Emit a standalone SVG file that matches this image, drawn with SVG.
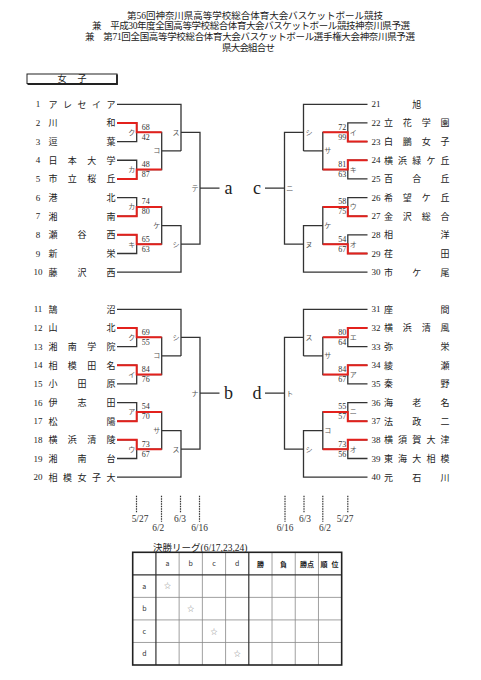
<svg xmlns="http://www.w3.org/2000/svg" xmlns:xlink="http://www.w3.org/1999/xlink" width="481" height="680" viewBox="0 0 481 680">
<style>
.hd{font-family:"Liberation Serif","Noto Sans CJK JP",serif;font-size:9.5px;fill:#222}
.nm{font-family:"Noto Sans CJK JP",sans-serif;font-size:9px;fill:#222;text-anchor:middle}
.no{font-family:"Liberation Serif",serif;font-size:9px;fill:#222;text-anchor:middle}
.sc{font-family:"Liberation Serif",serif;font-size:8px;fill:#333}
.scr{font-family:"Liberation Serif",serif;font-size:8px;fill:#333;text-anchor:end}
.lb{font-family:"Noto Sans CJK JP",sans-serif;font-size:7px;fill:#555;text-anchor:middle}
.fn{font-family:"Liberation Serif",serif;font-size:18px;fill:#222;text-anchor:middle}
.ln{fill:none;stroke:#333;stroke-width:1.3}
.rd{fill:none;stroke:#e3211c;stroke-width:2}
.dt{stroke:#333;stroke-width:1.2;stroke-dasharray:1.5 1}
.dl{font-family:"Liberation Serif",serif;font-size:9.4px;fill:#333;text-anchor:middle}
.tt{font-family:"Liberation Serif","Noto Sans CJK JP",serif;font-size:9.5px;fill:#222}
.tc{font-family:"Noto Sans CJK JP",sans-serif;font-size:7px;fill:#333;text-anchor:middle}
.tb{font-family:"Noto Sans CJK JP",sans-serif;font-size:7px;fill:#222;text-anchor:middle;font-weight:bold}
.st{font-family:"Noto Sans CJK JP",sans-serif;font-size:7px;fill:#888;text-anchor:middle}
.gi{stroke:#888;stroke-width:0.8;fill:none}
.gm{stroke:#333;stroke-width:1.2;fill:none}
.go{stroke:#222;stroke-width:1.6;fill:none}
</style>
<defs>
<path id="br" class="ln" d="M117,104.3H181V150.93M117,122.95H136.7V141.6H117M136.7,132.28H161.7V169.58H136.7M117,160.25H136.7V178.9H117M161.7,150.93H181M181,132.28H200V244.18H181M200,188.2H219.5M117,197.55H136.7V216.2H117M136.7,206.88H161.7V244.18H136.7M117,234.85H136.7V253.5H117M161.7,225.53H181V272.15H117"/>
</defs>
<rect x="0" y="0" width="481" height="680" fill="#fff"/>

<g id="title">
<text class="hd" x="127" y="19" textLength="256">第56回神奈川県高等学校総合体育大会バスケットボール競技</text>
<text class="hd" x="92" y="29.3" textLength="318">兼　平成30年度全国高等学校総合体育大会バスケットボール競技神奈川県予選</text>
<text class="hd" x="85" y="39.5" textLength="330">兼　第71回全国高等学校総合体育大会バスケットボール選手権大会神奈川県予選</text>
<text class="hd" x="222" y="50.5" textLength="53">県大会組合せ</text>
</g>

<g id="category">
<rect x="27" y="74" width="90" height="9.5" fill="none" stroke="#222" stroke-width="1"/>
<path d="M117,74.5V84H27.5" fill="none" stroke="#222" stroke-width="1.8"/>
<text class="nm" x="62 82" y="82.2">女子</text>
</g>

<g id="connectors">
<use xlink:href="#br"/>
<use xlink:href="#br" transform="translate(0,205)"/>
<use xlink:href="#br" transform="translate(484.5,0) scale(-1,1)"/>
<use xlink:href="#br" transform="translate(484.5,205) scale(-1,1)"/>
<path class="rd" d="M117,122.95H136.7V132.28H161.7M117,178.9H136.7V169.58H161.7M117,216.2H136.7V206.88H161.7M117,234.85H136.7V244.18H161.7"/>
<path class="rd" d="M117,327.95H136.7V337.28H161.7M117,365.25H136.7V374.58H161.7M117,421.2H136.7V411.88H161.7M117,439.85H136.7V449.18H161.7"/>
<path class="rd" d="M367.5,141.6H347.8V132.28H322.8M367.5,160.25H347.8V169.58H322.8M367.5,216.2H347.8V206.88H322.8M367.5,253.5H347.8V244.18H322.8"/>
<path class="rd" d="M367.5,327.95H347.8V337.28H322.8M367.5,365.25H347.8V374.58H322.8M367.5,421.2H347.8V411.88H322.8M367.5,439.85H347.8V449.18H322.8"/>
</g>

<g id="teams-left">
<g id="t1"><text class="no" x="38" y="107.3">1</text><text class="nm" x="53 67.5 82 96.5 111" y="107.7">アレセイア</text></g>
<g id="t2"><text class="no" x="38" y="125.95">2</text><text class="nm" x="53 111" y="126.35">川和</text></g>
<g id="t3"><text class="no" x="38" y="144.6">3</text><text class="nm" x="53 111" y="145">逗葉</text></g>
<g id="t4"><text class="no" x="38" y="163.25">4</text><text class="nm" x="53 72.3 91.7 111" y="163.65">日本大学</text></g>
<g id="t5"><text class="no" x="38" y="181.9">5</text><text class="nm" x="53 72.3 91.7 111" y="182.3">市立桜丘</text></g>
<g id="t6"><text class="no" x="38" y="200.55">6</text><text class="nm" x="53 111" y="200.95">港北</text></g>
<g id="t7"><text class="no" x="38" y="219.2">7</text><text class="nm" x="53 111" y="219.6">湘南</text></g>
<g id="t8"><text class="no" x="38" y="237.85">8</text><text class="nm" x="53 82 111" y="238.25">瀬谷西</text></g>
<g id="t9"><text class="no" x="38" y="256.5">9</text><text class="nm" x="53 111" y="256.9">新栄</text></g>
<g id="t10"><text class="no" x="38" y="275.15">10</text><text class="nm" x="53 82 111" y="275.55">藤沢西</text></g>
<g id="t11"><text class="no" x="38" y="312.3">11</text><text class="nm" x="53 111" y="312.7">鵠沼</text></g>
<g id="t12"><text class="no" x="38" y="330.95">12</text><text class="nm" x="53 111" y="331.35">山北</text></g>
<g id="t13"><text class="no" x="38" y="349.6">13</text><text class="nm" x="53 72.3 91.7 111" y="350">湘南学院</text></g>
<g id="t14"><text class="no" x="38" y="368.25">14</text><text class="nm" x="53 72.3 91.7 111" y="368.65">相模田名</text></g>
<g id="t15"><text class="no" x="38" y="386.9">15</text><text class="nm" x="53 82 111" y="387.3">小田原</text></g>
<g id="t16"><text class="no" x="38" y="405.55">16</text><text class="nm" x="53 82 111" y="405.95">伊志田</text></g>
<g id="t17"><text class="no" x="38" y="424.2">17</text><text class="nm" x="53 111" y="424.6">松陽</text></g>
<g id="t18"><text class="no" x="38" y="442.85">18</text><text class="nm" x="53 72.3 91.7 111" y="443.25">横浜清陵</text></g>
<g id="t19"><text class="no" x="38" y="461.5">19</text><text class="nm" x="53 82 111" y="461.9">湘南台</text></g>
<g id="t20"><text class="no" x="38" y="480.15">20</text><text class="nm" x="53 67.5 82 96.5 111" y="480.55">相模女子大</text></g>
</g>

<g id="teams-right">
<g id="t21"><text class="no" x="376" y="107.3">21</text><text class="nm" x="416.8" y="107.7">旭</text></g>
<g id="t22"><text class="no" x="376" y="125.95">22</text><text class="nm" x="388.5 407.3 426.2 445" y="126.35">立花学園</text></g>
<g id="t23"><text class="no" x="376" y="144.6">23</text><text class="nm" x="388.5 407.3 426.2 445" y="145">白鵬女子</text></g>
<g id="t24"><text class="no" x="376" y="163.25">24</text><text class="nm" x="388.5 402.6 416.8 430.9 445" y="163.65">横浜緑ケ丘</text></g>
<g id="t25"><text class="no" x="376" y="181.9">25</text><text class="nm" x="388.5 416.8 445" y="182.3">百合丘</text></g>
<g id="t26"><text class="no" x="376" y="200.55">26</text><text class="nm" x="388.5 407.3 426.2 445" y="200.95">希望ケ丘</text></g>
<g id="t27"><text class="no" x="376" y="219.2">27</text><text class="nm" x="388.5 407.3 426.2 445" y="219.6">金沢総合</text></g>
<g id="t28"><text class="no" x="376" y="237.85">28</text><text class="nm" x="388.5 445" y="238.25">相洋</text></g>
<g id="t29"><text class="no" x="376" y="256.5">29</text><text class="nm" x="388.5 445" y="256.9">荏田</text></g>
<g id="t30"><text class="no" x="376" y="275.15">30</text><text class="nm" x="388.5 416.8 445" y="275.55">市ケ尾</text></g>
<g id="t31"><text class="no" x="376" y="312.3">31</text><text class="nm" x="388.5 445" y="312.7">座間</text></g>
<g id="t32"><text class="no" x="376" y="330.95">32</text><text class="nm" x="388.5 407.3 426.2 445" y="331.35">横浜清風</text></g>
<g id="t33"><text class="no" x="376" y="349.6">33</text><text class="nm" x="388.5 445" y="350">弥栄</text></g>
<g id="t34"><text class="no" x="376" y="368.25">34</text><text class="nm" x="388.5 445" y="368.65">綾瀬</text></g>
<g id="t35"><text class="no" x="376" y="386.9">35</text><text class="nm" x="388.5 445" y="387.3">秦野</text></g>
<g id="t36"><text class="no" x="376" y="405.55">36</text><text class="nm" x="388.5 416.8 445" y="405.95">海老名</text></g>
<g id="t37"><text class="no" x="376" y="424.2">37</text><text class="nm" x="388.5 416.8 445" y="424.6">法政二</text></g>
<g id="t38"><text class="no" x="376" y="442.85">38</text><text class="nm" x="388.5 402.6 416.8 430.9 445" y="443.25">横須賀大津</text></g>
<g id="t39"><text class="no" x="376" y="461.5">39</text><text class="nm" x="388.5 402.6 416.8 430.9 445" y="461.9">東海大相模</text></g>
<g id="t40"><text class="no" x="376" y="480.15">40</text><text class="nm" x="388.5 416.8 445" y="480.55">元石川</text></g>
</g>

<g id="scores">
<text class="sc" x="141.7" y="129.8">68</text><text class="sc" x="141.7" y="139.8">42</text>
<text class="sc" x="141.7" y="167.1">48</text><text class="sc" x="141.7" y="177.1">87</text>
<text class="sc" x="141.7" y="204.4">74</text><text class="sc" x="141.7" y="214.4">80</text>
<text class="sc" x="141.7" y="241.7">65</text><text class="sc" x="141.7" y="251.7">63</text>
<text class="sc" x="141.7" y="334.8">69</text><text class="sc" x="141.7" y="344.8">55</text>
<text class="sc" x="141.7" y="372.1">84</text><text class="sc" x="141.7" y="382.1">76</text>
<text class="sc" x="141.7" y="409.4">54</text><text class="sc" x="141.7" y="419.4">70</text>
<text class="sc" x="141.7" y="446.7">73</text><text class="sc" x="141.7" y="456.7">67</text>
<text class="scr" x="346.3" y="129.8">72</text><text class="scr" x="346.3" y="139.8">99</text>
<text class="scr" x="346.3" y="167.1">81</text><text class="scr" x="346.3" y="177.1">63</text>
<text class="scr" x="346.3" y="204.4">58</text><text class="scr" x="346.3" y="214.4">75</text>
<text class="scr" x="346.3" y="241.7">54</text><text class="scr" x="346.3" y="251.7">67</text>
<text class="scr" x="346.3" y="334.8">80</text><text class="scr" x="346.3" y="344.8">64</text>
<text class="scr" x="346.3" y="372.1">84</text><text class="scr" x="346.3" y="382.1">67</text>
<text class="scr" x="346.3" y="409.4">55</text><text class="scr" x="346.3" y="419.4">57</text>
<text class="scr" x="346.3" y="446.7">73</text><text class="scr" x="346.3" y="456.7">56</text>
</g>

<g id="game-labels">
<text class="lb" x="131.7" y="134.8">ク</text>
<text class="lb" x="131.7" y="172.1">カ</text>
<text class="lb" x="131.7" y="209.4">カ</text>
<text class="lb" x="131.7" y="246.7">キ</text>
<text class="lb" x="156.7" y="153.4">コ</text>
<text class="lb" x="156.7" y="228">ケ</text>
<text class="lb" x="176" y="134.8">ス</text>
<text class="lb" x="176" y="246.7">シ</text>
<text class="lb" x="195" y="190.7">テ</text>
<text class="lb" x="131.7" y="339.8">ク</text>
<text class="lb" x="131.7" y="377.1">イ</text>
<text class="lb" x="131.7" y="414.4">ア</text>
<text class="lb" x="131.7" y="451.7">ウ</text>
<text class="lb" x="156.7" y="358.4">コ</text>
<text class="lb" x="156.7" y="433">サ</text>
<text class="lb" x="176" y="339.8">シ</text>
<text class="lb" x="176" y="451.7">ス</text>
<text class="lb" x="195" y="395.7">ナ</text>
<text class="lb" x="353.3" y="134.8">イ</text>
<text class="lb" x="353.3" y="172.1">キ</text>
<text class="lb" x="353.3" y="209.4">ウ</text>
<text class="lb" x="353.3" y="246.7">オ</text>
<text class="lb" x="327.8" y="153.4">サ</text>
<text class="lb" x="327.8" y="228">ケ</text>
<text class="lb" x="309" y="134.8">シ</text>
<text class="lb" x="309" y="246.7">ヌ</text>
<text class="lb" x="289.8" y="190.7">ニ</text>
<text class="lb" x="353.3" y="339.8">エ</text>
<text class="lb" x="353.3" y="377.1">ア</text>
<text class="lb" x="353.3" y="414.4">ニ</text>
<text class="lb" x="353.3" y="451.7">オ</text>
<text class="lb" x="327.8" y="358.4">サ</text>
<text class="lb" x="327.8" y="433">コ</text>
<text class="lb" x="309" y="339.8">ス</text>
<text class="lb" x="309" y="451.7">シ</text>
<text class="lb" x="289.8" y="395.7">ト</text>
</g>

<g id="block-a"><text class="fn" x="228.5" y="193.5">a</text></g>
<g id="block-c"><text class="fn" x="257" y="193.5">c</text></g>
<g id="block-b"><text class="fn" x="228.5" y="398.8">b</text></g>
<g id="block-d"><text class="fn" x="257" y="398.8">d</text></g>

<g id="dates">
<line class="dt" x1="136.5" y1="495.7" x2="136.5" y2="512.3"/>
<line class="dt" x1="161.5" y1="495.7" x2="161.5" y2="521.7"/>
<line class="dt" x1="180.5" y1="495.7" x2="180.5" y2="512.3"/>
<line class="dt" x1="199.5" y1="495.7" x2="199.5" y2="521.7"/>
<line class="dt" x1="285" y1="495.7" x2="285" y2="521.7"/>
<line class="dt" x1="304" y1="495.7" x2="304" y2="512.3"/>
<line class="dt" x1="322.8" y1="495.7" x2="322.8" y2="521.7"/>
<line class="dt" x1="347.8" y1="495.7" x2="347.8" y2="512.3"/>
<text class="dl" x="140" y="522.3">5/27</text>
<text class="dl" x="158.3" y="531">6/2</text>
<text class="dl" x="180" y="522.3">6/3</text>
<text class="dl" x="199.5" y="531">6/16</text>
<text class="dl" x="285" y="531">6/16</text>
<text class="dl" x="305" y="522.3">6/3</text>
<text class="dl" x="325" y="531">6/2</text>
<text class="dl" x="345" y="522.3">5/27</text>
</g>

<g id="league-table">
<text class="tt" x="153" y="550.5">決勝リーグ(6/17,23,24)</text>
<path class="gi" d="M179.14,552.3V665M202.36,552.3V665M225.58,552.3V665M272.02,552.3V665M295.24,552.3V665M318.46,552.3V665M132.7,597.38H341.68M132.7,619.92H341.68M132.7,642.46H341.68"/>
<path class="gm" d="M155.92,552.3V665M248.8,552.3V665M132.7,574.84H341.68"/>
<rect class="go" x="132.7" y="552.3" width="208.98" height="112.7"/>
<text class="tc" x="167.5" y="566.3">a</text>
<text class="tc" x="190.75" y="566.3">b</text>
<text class="tc" x="214" y="566.3">c</text>
<text class="tc" x="237.2" y="566.3">d</text>
<text class="tb" x="260.4" y="566.5">勝</text>
<text class="tb" x="283.6" y="566.5">負</text>
<text class="tb" x="306.9" y="566.5">勝点</text>
<text class="tb" x="324 335" y="566.5">順位</text>
<text class="tc" x="144.3" y="588.6">a</text>
<text class="tc" x="144.3" y="611.2">b</text>
<text class="tc" x="144.3" y="633.7">c</text>
<text class="tc" x="144.3" y="656.2">d</text>
<text class="st" x="167.5" y="588.4">☆</text>
<text class="st" x="190.75" y="610.9">☆</text>
<text class="st" x="214" y="633.5">☆</text>
<text class="st" x="237.2" y="656">☆</text>
</g>
</svg>
